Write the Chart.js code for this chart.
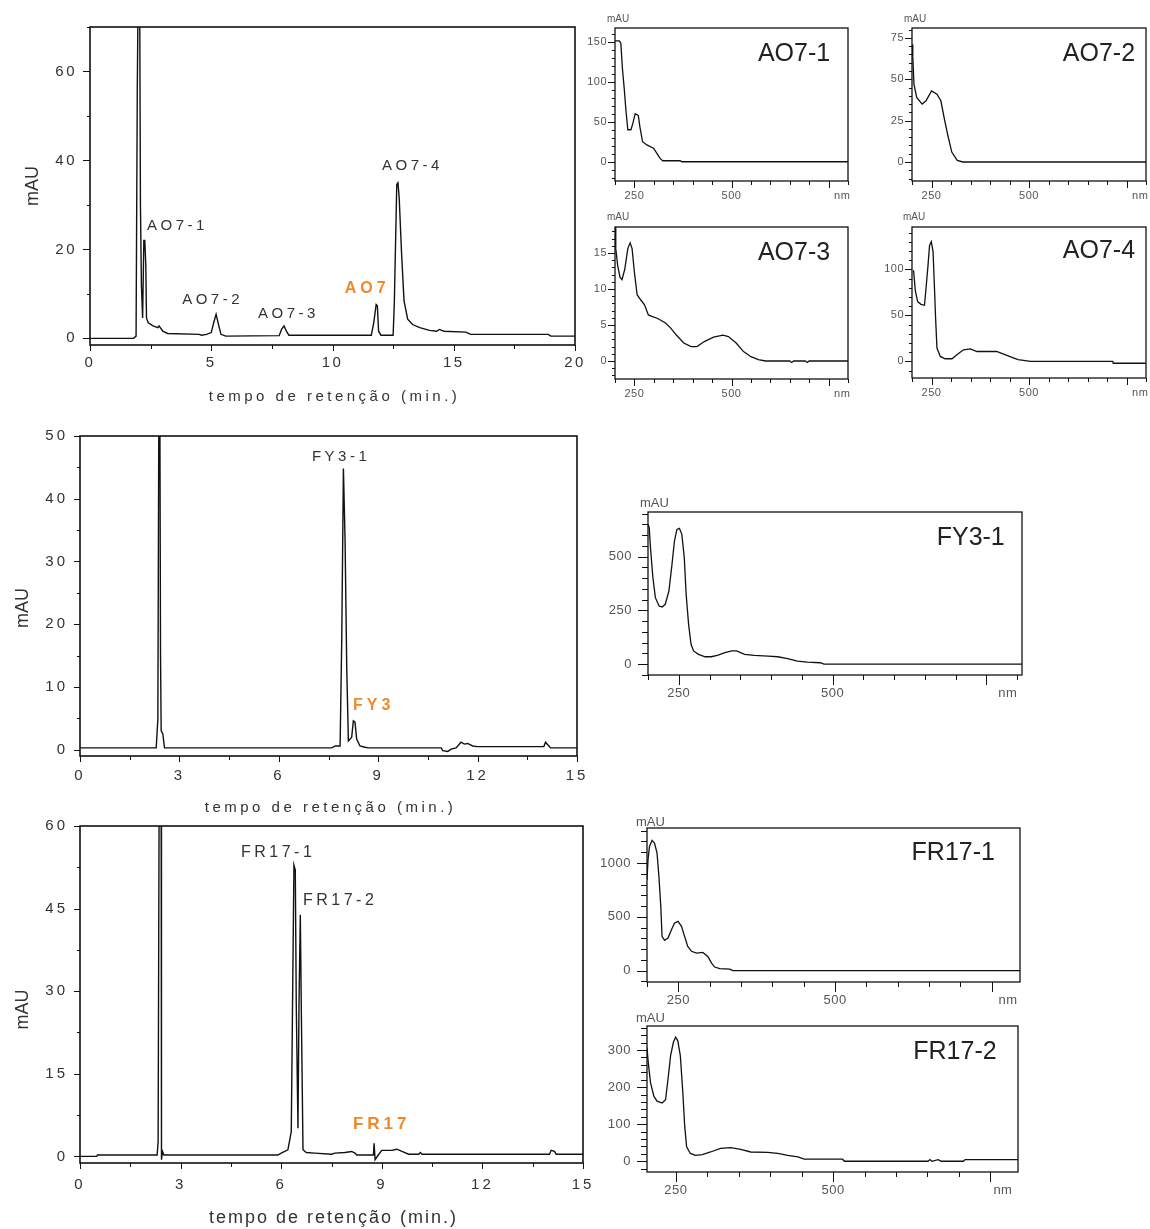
<!DOCTYPE html>
<html lang="pt">
<head>
<meta charset="utf-8">
<title>Cromatogramas e espectros UV-Vis</title>
<script src="https://cdn.jsdelivr.net/npm/chart.js@4.4.1/dist/chart.umd.min.js"></script>
<style>
  html, body { margin: 0; padding: 0; background: #fff; }
  #page { position: relative; width: 1150px; height: 1229px; overflow: hidden; }
  .panel { position: absolute; }
</style>
</head>
<body>
<div id="page"></div>
<script>
// --- chromatograms (tempo em min, absorvância em mAU) ---
const ao7Time = [0, 1.8, 1.9, 1.95, 1.98, 2.05, 2.08, 2.12, 2.17, 2.22, 2.26, 2.3, 2.33, 2.4, 2.6, 2.8, 2.85, 3.0, 3.2, 4.5, 4.6, 4.8, 5.0, 5.1, 5.2, 5.3, 5.4, 5.6, 7.8, 7.9, 8.0, 8.1, 8.2, 11.6, 11.7, 11.8, 11.85, 11.9, 12.0, 12.5, 12.55, 12.65, 12.7, 12.75, 12.85, 12.95, 13.1, 13.3, 13.6, 14.0, 14.3, 14.4, 14.6, 15.5, 15.7, 18.9, 19.0, 20];
const ao7Mau = [0, 0, 0.5, 56, 75, 75, 30, 12, 4.6, 22, 22, 16.6, 4.6, 3.5, 2.8, 2.4, 2.8, 1.6, 1.1, 0.9, 0.7, 0.9, 1.3, 3.5, 5.4, 3.1, 0.9, 0.5, 0.6, 2.0, 2.8, 1.6, 0.7, 0.7, 3.5, 7.6, 7.3, 1.6, 0.7, 0.7, 8.0, 34.6, 35, 31.6, 18.9, 8.4, 4.3, 3.1, 2.4, 1.8, 1.6, 2.0, 1.6, 1.4, 0.9, 0.9, 0.5, 0.5];

const fy3Time = [0, 2.3, 2.35, 2.38, 2.41, 2.43, 2.45, 2.5, 2.55, 7.6, 7.7, 7.85, 7.9, 7.95, 8.0, 8.05, 8.1, 8.2, 8.25, 8.3, 8.35, 8.45, 8.6, 8.7, 10.9, 10.95, 11.1, 11.2, 11.35, 11.5, 11.6, 11.7, 11.85, 12.0, 14.0, 14.05, 14.15, 14.2, 15];
const fy3Mau = [0.3, 0.3, 4.9, 55, 55, 15.3, 3.0, 2.5, 0.3, 0.3, 0.6, 0.6, 17.7, 44.8, 33.4, 13.2, 1.4, 2.0, 4.6, 4.4, 1.7, 0.6, 0.4, 0.3, 0.3, -0.15, -0.27, 0.1, 0.3, 1.2, 0.9, 1.0, 0.6, 0.5, 0.5, 1.2, 0.6, 0.3, 0.3];

const fr17Time = [0, 0.5, 0.52, 2.3, 2.33, 2.36, 2.42, 2.43, 2.46, 2.5, 5.9, 6.0, 6.2, 6.3, 6.38, 6.42, 6.45, 6.5, 6.53, 6.57, 6.6, 6.65, 6.75, 7.0, 7.5, 7.6, 7.9, 8.1, 8.2, 8.25, 8.75, 8.77, 8.8, 8.9, 9.0, 9.3, 9.45, 9.6, 9.8, 10.1, 10.15, 10.2, 14.0, 14.05, 14.15, 14.2, 15];
const fr17Mau = [0, 0, 0.25, 0.25, 2.7, 65, 65, -0.6, 0.9, 0.25, 0.25, 0.6, 1.2, 4.5, 52.9, 52, 27.2, 5.1, 27.2, 43.9, 26.6, 1.2, 0.7, 0.6, 0.4, 0.6, 0.7, 0.9, 0.6, 0.25, 0.25, 2.4, -0.6, 0.3, 1.1, 1.1, 1.3, 0.9, 0.4, 0.4, 0.7, 0.4, 0.4, 1.1, 0.9, 0.4, 0.4];

// --- UV-Vis spectra (nm, mAU) ---
const ao7_1Nm = [200, 203, 211, 215, 219, 224, 228, 233, 241, 246, 252, 260, 264, 271, 282, 299, 308, 316, 323, 368, 372, 800];
const ao7_1Mau = [151, 151, 151, 148, 117, 90, 65, 40, 40, 48, 60, 58, 44, 25, 21, 17, 10.5, 4.2, 1.3, 1.3, 0, 0];

const ao7_2Nm = [200, 202, 205, 212, 226, 236, 250, 264, 274, 283, 292, 302, 316, 330, 800];
const ao7_2Mau = [71, 64, 47, 39, 35, 37, 43, 41, 37, 26, 16, 6, 1, 0, 0];

const ao7_3Nm = [200, 202, 207, 213, 218, 225, 233, 239, 244, 250, 257, 266, 276, 286, 295, 310, 329, 343, 358, 377, 396, 411, 430, 454, 478, 492, 512, 531, 550, 569, 588, 650, 655, 660, 690, 695, 700, 800];
const ao7_3Mau = [20, 15.6, 13.2, 11.6, 11.3, 12.7, 15.6, 16.4, 15.6, 12.3, 9.2, 8.5, 7.8, 6.4, 6.2, 5.9, 5.3, 4.6, 3.6, 2.5, 2.0, 2.0, 2.7, 3.3, 3.6, 3.4, 2.5, 1.3, 0.6, 0.2, 0, 0, -0.2, 0, 0, -0.2, 0, 0];

const ao7_4Nm = [204, 208.5, 214.5, 223, 232, 236.7, 241, 245, 249.5, 254, 258, 260.5, 264, 272.6, 285, 302.6, 315, 332, 349.5, 366.6, 400, 417, 435, 453, 472, 504, 715, 716, 800];
const ao7_4Mau = [99, 77, 65, 62, 61, 83, 104, 126, 130, 119, 76, 47, 14.5, 5.4, 2.9, 2.9, 7.2, 12.6, 13.7, 10.8, 10.8, 11, 8, 5, 2, 0, 0, -2, -2];

const fy3_1Nm = [200, 202, 204, 208, 212, 218, 223, 228, 234, 239, 243, 247, 251, 255, 259, 262, 266, 270, 274, 282, 293, 303, 314, 325, 336, 344, 357, 373, 395, 411, 427, 443, 459, 480, 486, 808];
const fy3_1Mau = [651, 635, 542, 402, 309, 270, 266, 278, 340, 464, 573, 627, 632, 604, 495, 325, 185, 92, 61, 45, 34, 34, 42, 53, 61, 61, 45, 40, 37, 34, 25, 14, 9, 6, 0, 0];

const fr17_1Nm = [200, 201.6, 204, 208, 212, 216, 219, 222, 224, 228, 233.5, 239, 244, 249.5, 255, 260, 265, 271, 279, 289, 297, 303, 308, 316, 332, 337, 795];
const fr17_1Mau = [845, 1031, 1155, 1210, 1186, 1093, 876, 598, 319, 282, 303, 381, 443, 458, 412, 319, 226, 180, 164, 170, 133, 71, 34, 19, 15, 0, 0];

const fr17_2Nm = [204, 206, 209.6, 215, 220, 228, 233.5, 238, 241.5, 246, 249.5, 253, 257, 261, 264, 267, 273, 281, 292, 305, 321, 337, 353, 369, 396, 412, 428, 444, 454, 515, 518, 651, 654, 657, 667, 672, 707, 710, 794];
const fr17_2Mau = [307, 266, 212, 175, 162, 157, 166, 230, 285, 321, 335, 325, 285, 185, 94, 39, 21, 16, 18, 25, 35, 37, 32, 25, 24, 21, 16, 12, 5.5, 5.5, 0, 0, 4.5, 0, 4.5, 0, 0, 4.5, 4.5];

// --- tick labels ---
const ao7TimeTicks = [0, 5, 10, 15, 20];
const ao7MauTicks = [0, 20, 40, 60];
const fy3TimeTicks = [0, 3, 6, 9, 12, 15];
const fy3MauTicks = [0, 10, 20, 30, 40, 50];
const fr17TimeTicks = [0, 3, 6, 9, 12, 15];
const fr17MauTicks = [0, 15, 30, 45, 60];
// last value of each wavelength list is where the "nm" unit label sits
const nmTicksAO7 = [250, 500, 785];
const nmTicksFY3 = [250, 500, 785];
const nmTicksFR17_1 = [250, 500, 776];
const nmTicksFR17_2 = [250, 500, 770];
const ao7_1Ticks = [0, 50, 100, 150];
const ao7_2Ticks = [0, 25, 50, 75];
const ao7_3Ticks = [0, 5, 10, 15];
const ao7_4Ticks = [0, 50, 100];
const fy3_1Ticks = [0, 250, 500];
const fr17_1Ticks = [0, 500, 1000];
const fr17_2Ticks = [0, 100, 200, 300];

const FONT = '"Liberation Sans", Arial, sans-serif';
const ORANGE = '#f0892b';
const TXT = '#333';
const xTitle = 'tempo de retenção (min.)';

/**
 * Draws the box around the plot area and the outward major/minor tick marks.
 * Also sets the canvas letter spacing used by the tick labels.
 */
const framePlugin = {
    id: 'frame',
    beforeDraw(chart, args, o) {
        chart.ctx.letterSpacing = o.spacing || '0px';
    },
    afterDatasetsDraw(chart, args, o) {
        const { ctx, chartArea: a, scales: { x, y } } = chart;
        const marks = (min, max, step) => {
            const out = [];
            for (let v = Math.ceil(min / step - 1e-9) * step; v <= max + 1e-9; v += step) out.push(v);
            return out;
        };
        ctx.save();
        ctx.letterSpacing = '0px';
        ctx.strokeStyle = '#111';
        ctx.lineWidth = o.boxWidth;
        ctx.strokeRect(a.left, a.top, a.right - a.left, a.bottom - a.top);
        ctx.lineWidth = 1;
        ctx.beginPath();
        marks(x.min, x.max, o.xMinor).forEach(v => {
            const major = Math.abs(v / o.xMajor - Math.round(v / o.xMajor)) < 1e-6;
            const p = Math.round(x.getPixelForValue(v)) + 0.5;
            ctx.moveTo(p, a.bottom);
            ctx.lineTo(p, a.bottom + (major ? o.xLen[0] : o.xLen[1]));
        });
        marks(y.min, y.max, o.yMinor).forEach(v => {
            const major = Math.abs(v / o.yMajor - Math.round(v / o.yMajor)) < 1e-6;
            const p = Math.round(y.getPixelForValue(v)) + 0.5;
            ctx.moveTo(a.left, p);
            ctx.lineTo(a.left - (major ? o.yLen[0] : o.yLen[1]), p);
        });
        ctx.stroke();
        ctx.restore();
    }
};

/**
 * Writes peak names, axis titles and panel names.
 * Items use data coords (x, y) or plot-area fractions (area: true).
 */
const notesPlugin = {
    id: 'notes',
    afterDraw(chart, args, o) {
        const { ctx, chartArea: a, scales: { x, y } } = chart;
        (o.items || []).forEach(n => {
            let px, py;
            if (n.area) {
                px = a.left + n.fx * (a.right - a.left) + (n.dx || 0);
                py = a.top + n.fy * (a.bottom - a.top) + (n.dy || 0);
            } else {
                px = x.getPixelForValue(n.x);
                py = y.getPixelForValue(n.y);
            }
            ctx.save();
            ctx.font = n.font;
            ctx.fillStyle = n.color || TXT;
            ctx.letterSpacing = n.ls || '0px';
            ctx.textAlign = n.align || 'left';
            ctx.textBaseline = 'middle';
            ctx.translate(px, py);
            if (n.rot) ctx.rotate(n.rot);
            ctx.fillText(n.text, 0, 0);
            ctx.restore();
        });
    }
};

function chromNotes(extra, titleFont, titleLs, titleDy, yDy) {
    return extra.concat([
        { area: true, fx: 0.5, fy: 1, dx: 2, dy: titleDy, text: xTitle, font: titleFont, ls: titleLs, align: 'center' },
        { area: true, fx: 0, fy: 0.5, dx: -57, dy: yDy, text: 'mAU', font: '18px ' + FONT, align: 'center', rot: -Math.PI / 2 }
    ]);
}

const peakFont = '15px ' + FONT;
const tagFont = 'bold 16px ' + FONT;

const panels = [
    {
        box: [90, 27, 575, 345], m: [90, 10, 25, 70], xs: ao7Time, ys: ao7Mau, lw: 1.4,
        xRange: [0, 20], yRange: [-1.5, 70], xTicks: ao7TimeTicks, yTicks: ao7MauTicks,
        tickFont: 15, tickColor: TXT, spacing: '2.5px', xPad: 9, yPad: 13,
        frame: { boxWidth: 1.6, xMajor: 5, xMinor: 2.5, yMajor: 20, yMinor: 10, xLen: [6, 4], yLen: [7, 3] },
        notes: chromNotes([
            { x: 2.35, y: 25.2, text: 'AO7-1', font: peakFont, ls: '3.5px' },
            { x: 3.8, y: 8.6, text: 'AO7-2', font: peakFont, ls: '3.5px' },
            { x: 6.93, y: 5.5, text: 'AO7-3', font: peakFont, ls: '3.5px' },
            { x: 10.5, y: 11.1, text: 'AO7', font: tagFont, ls: '4px', color: ORANGE },
            { x: 12.04, y: 38.7, text: 'AO7-4', font: peakFont, ls: '3.5px' }
        ], '15px ' + FONT, '3.5px', 52, 0)
    },
    {
        box: [80, 436, 577, 756], m: [80, 12, 25, 70], xs: fy3Time, ys: fy3Mau, lw: 1.4,
        xRange: [0, 15], yRange: [-1, 50], xTicks: fy3TimeTicks, yTicks: fy3MauTicks,
        tickFont: 15, tickColor: TXT, spacing: '3px', xPad: 11, yPad: 12,
        frame: { boxWidth: 1.6, xMajor: 3, xMinor: 1.5, yMajor: 10, yMinor: 5, xLen: [6, 4], yLen: [6, 3] },
        notes: chromNotes([
            { x: 7.0, y: 46.6, text: 'FY3-1', font: peakFont, ls: '3.5px' },
            { x: 8.24, y: 7.1, text: 'FY3', font: tagFont, ls: '4px', color: ORANGE }
        ], '15px ' + FONT, '3.5px', 52, 12)
    },
    {
        box: [80, 826, 583, 1163], m: [80, 12, 25, 70], xs: fr17Time, ys: fr17Mau, lw: 1.4,
        xRange: [0, 15], yRange: [-1.2, 60], xTicks: fr17TimeTicks, yTicks: fr17MauTicks,
        tickFont: 15, tickColor: TXT, spacing: '3px', xPad: 13, yPad: 12,
        frame: { boxWidth: 1.6, xMajor: 3, xMinor: 1.5, yMajor: 15, yMinor: 7.5, xLen: [6, 4], yLen: [6, 3] },
        notes: chromNotes([
            { x: 4.8, y: 55.1, text: 'FR17-1', font: '16px ' + FONT, ls: '3.5px' },
            { x: 6.65, y: 46.4, text: 'FR17-2', font: '16px ' + FONT, ls: '3.5px' },
            { x: 8.14, y: 5.9, text: 'FR17', font: 'bold 17px ' + FONT, ls: '4px', color: ORANGE }
        ], '18px ' + FONT, '2px', 55, 15)
    }
];

// small = top-right AO7 panels (smaller text and ticks)
function spectrum(box, xs, ys, xRange, yRange, xTicks, yTicks, yMajor, yMinor, name, nameX, nameY, small, mau) {
    return {
        box, m: [50, 18, 12, 32], xs, ys, lw: 1.3,
        xRange, yRange, xTicks, yTicks, nmLabel: true,
        tickFont: small ? 11 : 13, tickColor: '#555', spacing: '0.5px',
        xPad: small ? 8 : 11, yPad: small ? 8 : 16,
        frame: {
            boxWidth: 1.3, xMajor: 250, xMinor: 50, yMajor, yMinor,
            xLen: small ? [7, 4] : [10, 5], yLen: small ? [7, 3] : [10, 6]
        },
        notes: [
            { x: nameX, y: nameY, text: name, font: '25px ' + FONT, align: 'right', color: '#222' },
            { area: true, fx: 0, fy: 0, dx: mau[0], dy: mau[1], text: 'mAU', font: (small ? 10 : 13) + 'px ' + FONT, color: '#555' }
        ]
    };
}

panels.push(
    spectrum([615, 28, 848, 181], ao7_1Nm, ao7_1Mau, [200, 800], [-24, 167], nmTicksAO7, ao7_1Ticks, 50, 10, 'AO7-1', 754, 134.5, true, [-8, -9]),
    spectrum([912, 28, 1146, 181], ao7_2Nm, ao7_2Mau, [200, 800], [-11.5, 81], nmTicksAO7, ao7_2Ticks, 25, 5, 'AO7-2', 772, 65.3, true, [-8, -9]),
    spectrum([615, 227, 848, 379], ao7_3Nm, ao7_3Mau, [200, 800], [-2.5, 18.6], nmTicksAO7, ao7_3Ticks, 5, 1, 'AO7-3', 754, 15.0, true, [-8, -10]),
    spectrum([912, 227, 1146, 378], ao7_4Nm, ao7_4Mau, [200, 800], [-18, 146], nmTicksAO7, ao7_4Ticks, 50, 10, 'AO7-4', 772, 120, true, [-9, -10]),
    spectrum([648, 512, 1022, 675], fy3_1Nm, fy3_1Mau, [200, 808], [-51, 708], nmTicksFY3, fy3_1Ticks, 250, 50, 'FY3-1', 780, 587, false, [-8, -9]),
    spectrum([647, 828, 1020, 982], fr17_1Nm, fr17_1Mau, [200, 795], [-105, 1325], nmTicksFR17_1, fr17_1Ticks, 500, 100, 'FR17-1', 755, 1093, false, [-11, -6]),
    spectrum([647, 1026, 1018, 1172], fr17_2Nm, fr17_2Mau, [204, 794], [-29, 365], nmTicksFR17_2, fr17_2Ticks, 100, 20, 'FR17-2', 760, 295, false, [-11, -8])
);

/**
 * Places one panel so that its plot area lands on p.box (page pixels).
 */
function buildPanel(p) {
    const [l, t, r, b] = p.box;
    const [ml, mt, mr, mb] = p.m;
    const div = document.createElement('div');
    div.className = 'panel';
    div.style.left = (l - ml) + 'px';
    div.style.top = (t - mt) + 'px';
    div.style.width = (r - l + ml + mr) + 'px';
    div.style.height = (b - t + mt + mb) + 'px';
    const canvas = document.createElement('canvas');
    div.appendChild(canvas);
    document.getElementById('page').appendChild(div);

    const noPad = s => { s.paddingLeft = 0; s.paddingRight = 0; s.paddingTop = 0; s.paddingBottom = 0; };
    const tickFont = { family: FONT, size: p.tickFont };

    new Chart(canvas, {
        type: 'line',
        data: {
            datasets: [{
                data: p.xs.map((v, i) => ({ x: v, y: p.ys[i] })),
                borderColor: '#111',
                borderWidth: p.lw,
                pointRadius: 0,
                tension: 0,
                fill: false
            }]
        },
        options: {
            responsive: true,
            maintainAspectRatio: false,
            animation: false,
            events: [],
            layout: { padding: { top: mt, right: mr, left: 0, bottom: 0 } },
            plugins: {
                legend: { display: false },
                tooltip: { enabled: false },
                frame: Object.assign({ spacing: p.spacing }, p.frame),
                notes: { items: p.notes }
            },
            scales: {
                x: {
                    type: 'linear',
                    min: p.xRange[0],
                    max: p.xRange[1],
                    afterBuildTicks: s => { s.ticks = p.xTicks.map(v => ({ value: v })); },
                    afterFit: s => { s.height = mb; noPad(s); },
                    grid: { display: false, drawTicks: false },
                    border: { display: false },
                    ticks: {
                        padding: p.xPad,
                        font: tickFont,
                        color: p.tickColor,
                        maxRotation: 0,
                        autoSkip: false,
                        callback: (v, i, ticks) => (p.nmLabel && i === ticks.length - 1) ? 'nm' : String(v)
                    }
                },
                y: {
                    type: 'linear',
                    min: p.yRange[0],
                    max: p.yRange[1],
                    afterBuildTicks: s => { s.ticks = p.yTicks.map(v => ({ value: v })); },
                    afterFit: s => { s.width = ml; noPad(s); },
                    grid: { display: false, drawTicks: false },
                    border: { display: false },
                    ticks: {
                        padding: p.yPad,
                        font: tickFont,
                        color: p.tickColor,
                        autoSkip: false,
                        callback: v => String(v)
                    }
                }
            }
        },
        plugins: [framePlugin, notesPlugin]
    });
}

panels.forEach(buildPanel);
</script>
</body>
</html>
